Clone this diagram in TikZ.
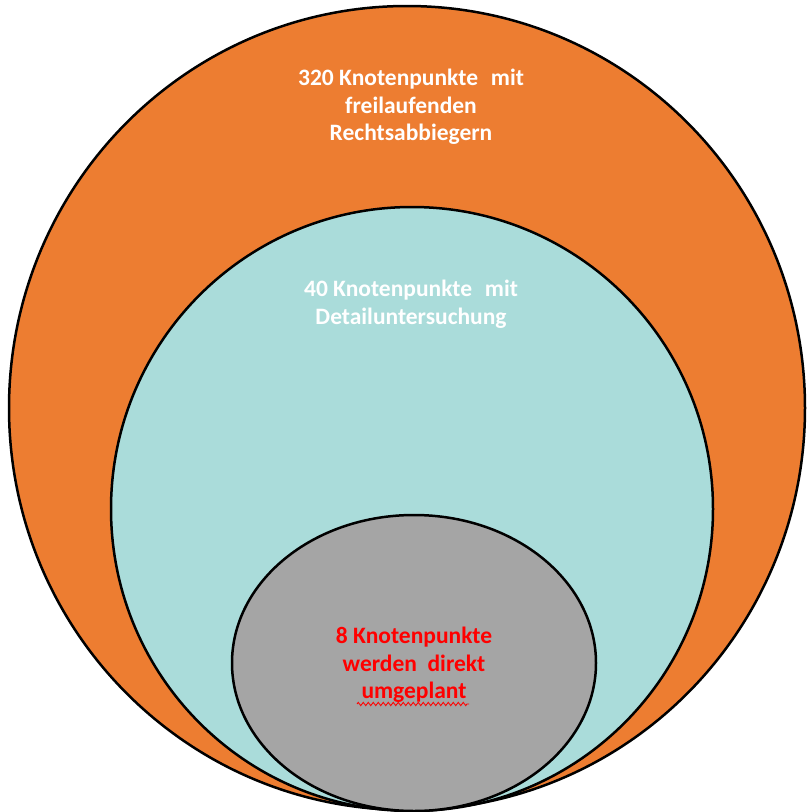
\documentclass[tikz,border=0pt]{standalone}
\usepackage{fontspec}
\setmainfont{Carlito}
\usetikzlibrary{decorations.pathmorphing}
\definecolor{orangeC}{HTML}{ED7D31}
\definecolor{tealC}{HTML}{AADCDA}
\definecolor{grayC}{HTML}{A5A5A5}
\definecolor{redC}{HTML}{FF0000}
\tikzset{
  ring/.style={draw=black, line width=2.5pt},
  lbl/.style={align=center, inner sep=0pt, font=\bfseries\fontsize{23.5}{27.5}\selectfont},
}
\begin{document}
\begin{tikzpicture}[x=1pt,y=-1pt]
\useasboundingbox (0,0) rectangle (807,812);
\fill[white] (0,0) rectangle (807,812);
\begin{scope}
\clip (0,0) rectangle (807,812);
\draw[ring, fill=orangeC] (407,408) ellipse [x radius=398pt, y radius=402pt];
\draw[ring, fill=tealC] (412,509) ellipse [x radius=301pt, y radius=302pt];
\draw[ring, fill=grayC] (414,663) ellipse [x radius=182pt, y radius=148pt];
\end{scope}
\node[lbl, text=white] (t1) at (411,107) {320 Knotenpunkte\hspace{0.32em} mit\\freilaufenden\\Rechtsabbiegern};
\node[lbl, text=white] (t2) at (411,304) {40 Knotenpunkte\hspace{0.32em} mit\\Detailuntersuchung};
\node[lbl, text=redC] (t3) at (414,665) {8 Knotenpunkte\\werden\ \ direkt\\umgeplant};
\coordinate (w1) at (357,704);
\coordinate (w2) at (469,704);
\draw[redC, line width=0.9pt, decorate, decoration={zigzag, amplitude=1.6pt, segment length=5pt}] (w1) -- (w2);
\end{tikzpicture}
\end{document}
